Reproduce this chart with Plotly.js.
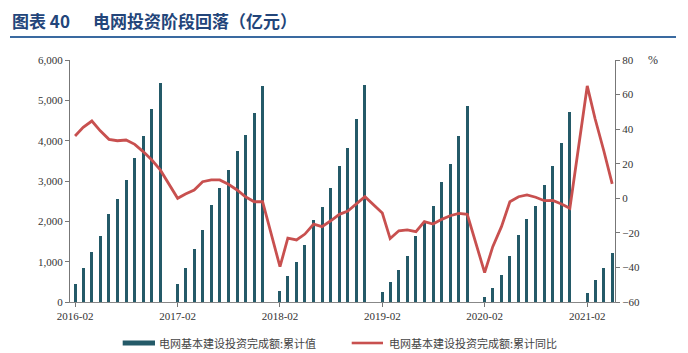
<!DOCTYPE html>
<html>
<head>
<meta charset="utf-8">
<script src="https://cdn.plot.ly/plotly-3.0.1.min.js"></script>
<style>
html,body{margin:0;padding:0;background:#fff;}
#chart{width:688px;height:353px;}
</style>
</head>
<body>
<div id="chart"></div>
<script>
// Months (Jan-Feb combined in source data, so no January entries)
const months = [
  "2016-02","2016-03","2016-04","2016-05","2016-06","2016-07","2016-08","2016-09","2016-10","2016-11","2016-12",
  "2017-02","2017-03","2017-04","2017-05","2017-06","2017-07","2017-08","2017-09","2017-10","2017-11","2017-12",
  "2018-02","2018-03","2018-04","2018-05","2018-06","2018-07","2018-08","2018-09","2018-10","2018-11","2018-12",
  "2019-02","2019-03","2019-04","2019-05","2019-06","2019-07","2019-08","2019-09","2019-10","2019-11","2019-12",
  "2020-02","2020-03","2020-04","2020-05","2020-06","2020-07","2020-08","2020-09","2020-10","2020-11","2020-12",
  "2021-02","2021-03","2021-04","2021-05"
];
// 电网基本建设投资完成额:累计值 (亿元)
const cumValue = [
  440, 835, 1248, 1644, 2190, 2562, 3016, 3578, 4107, 4784, 5430,
  440, 850, 1306, 1793, 2405, 2818, 3264, 3743, 4140, 4685, 5350,
  265, 652, 992, 1413, 2041, 2347, 2818, 3380, 3826, 4528, 5390,
  240, 504, 801, 1148, 1644, 1950, 2388, 2966, 3421, 4123, 4866,
  124, 355, 661, 1132, 1653, 2049, 2380, 2900, 3371, 3949, 4710,
  223, 545, 851, 1222
];
// 电网基本建设投资完成额:累计同比 (%)
const cumYoY = [
  36.0, 41.0, 44.7, 39.0, 34.1, 33.3, 33.7, 31.2, 27.0, 22.1, 16.4,
  0.0, 2.5, 4.8, 9.6, 10.6, 10.6, 8.1, 4.8, 0.9, -2.0, -2.0,
  -39.6, -23.1, -24.1, -20.7, -14.9, -16.4, -13.0, -9.3, -7.4, -3.3, 0.9,
  -8.5, -23.3, -18.8, -18.3, -19.3, -13.5, -14.9, -12.2, -10.1, -8.7, -9.3,
  -43.0, -28.0, -16.4, -2.0, 0.9, 1.9, 0.6, -1.4, -1.2, -3.3, -5.8,
  65.0, 46.0, 27.5, 8.3
];
const tickMonths = ["2016-02","2017-02","2018-02","2019-02","2020-02","2021-02"];
const titleText = "图表 40&nbsp;&nbsp;&nbsp;&nbsp;&nbsp;&nbsp;电网投资阶段回落（亿元）";
const barName = "电网基本建设投资完成额:累计值";
const lineName = "电网基本建设投资完成额:累计同比";

const barColor = "#245a68";
const lineColor = "#c8504f";
const serif = "Liberation Serif, Times New Roman, serif";
const cjk = "Noto Sans CJK SC, sans-serif";

const xDates = months.map(m => m + "-01");
const dayMs = 86400000;

const traces = [
  {
    type: "bar", x: xDates, y: cumValue, name: barName,
    marker: {color: barColor}, width: xDates.map(() => 10.7 * dayMs),
    yaxis: "y", showlegend: false, hoverinfo: "x+y"
  },
  {
    type: "scatter", mode: "lines", x: xDates, y: cumYoY, name: lineName,
    line: {color: lineColor, width: 2.8}, yaxis: "y2", showlegend: false
  }
];

const layout = {
  width: 688, height: 353,
  margin: {l: 70, r: 73, t: 60, b: 51, pad: 0},
  paper_bgcolor: "#fff", plot_bgcolor: "#fff",
  title: {
    text: titleText,
    font: {family: cjk, size: 17, color: "#23457a", weight: "bold"},
    x: 12/688, xanchor: "left", xref: "container",
    y: 1 - 22/353, yanchor: "middle", yref: "container"
  },
  bargap: 0,
  xaxis: {
    type: "date",
    range: ["2016-01-14", "2021-05-11"],
    tickvals: tickMonths.map(m => m + "-01"),
    ticktext: tickMonths,
    ticks: "outside", ticklen: 4, tickcolor: "#777",
    showline: true, linecolor: "#888", linewidth: 1,
    showgrid: false, zeroline: false,
    tickfont: {family: serif, size: 11, color: "#333"}
  },
  yaxis: {
    range: [0, 6000], tickvals: [0,1000,2000,3000,4000,5000,6000],
    tickformat: ",d",
    ticks: "outside", ticklen: 4, tickcolor: "#777",
    showline: true, linecolor: "#777", linewidth: 1,
    showgrid: false, zeroline: false,
    tickfont: {family: serif, size: 11, color: "#333"}
  },
  yaxis2: {
    overlaying: "y", side: "right",
    range: [-60, 80], tickvals: [-60,-40,-20,0,20,40,60,80],
    ticks: "outside", ticklen: 4, tickcolor: "#777",
    showline: true, linecolor: "#777", linewidth: 1,
    showgrid: false, zeroline: false,
    tickfont: {family: serif, size: 11, color: "#333"}
  },
  shapes: [
    {type: "line", xref: "paper", yref: "paper",
     x0: (10-70)/545, x1: (676-70)/545, y0: (302-37)/242, y1: (302-37)/242,
     line: {color: "#3a6aa0", width: 2}},
    {type: "rect", xref: "paper", yref: "paper",
     x0: (122.7-70)/545, x1: (155-70)/545, y0: (302-345.5)/242, y1: (302-340.5)/242,
     fillcolor: barColor, line: {width: 0}},
    {type: "line", xref: "paper", yref: "paper",
     x0: (351.7-70)/545, x1: (383-70)/545, y0: (302-343)/242, y1: (302-343)/242,
     line: {color: lineColor, width: 2.6}}
  ],
  annotations: [
    {text: "%", xref: "paper", yref: "paper", x: (646-70)/545, y: (302-60)/242,
     xanchor: "left", yanchor: "middle", showarrow: false,
     font: {family: serif, size: 12, color: "#333"}},
    {text: barName, xref: "paper", yref: "paper", x: (157-70)/545, y: (302-343)/242,
     xanchor: "left", yanchor: "middle", showarrow: false,
     font: {family: cjk, size: 11, color: "#444"}},
    {text: lineName, xref: "paper", yref: "paper", x: (386.7-70)/545, y: (302-343)/242,
     xanchor: "left", yanchor: "middle", showarrow: false,
     font: {family: cjk, size: 11, color: "#444"}}
  ]
};

Plotly.newPlot("chart", traces, layout, {displayModeBar: false, staticPlot: true});
</script>
</body>
</html>
